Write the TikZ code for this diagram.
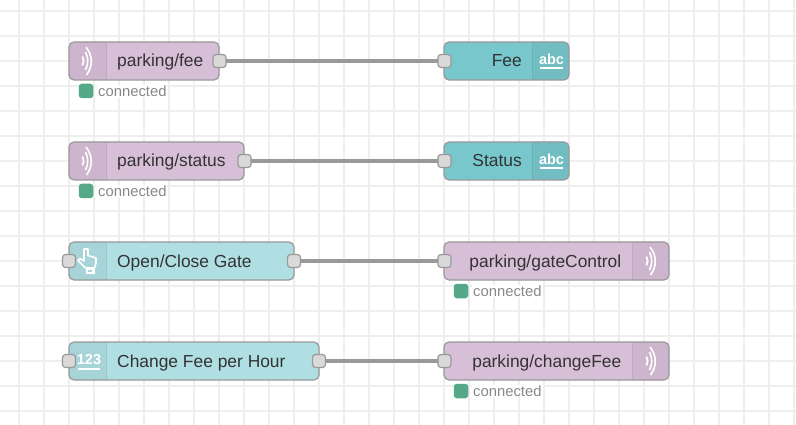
\documentclass[tikz,border=0pt]{standalone}
\usepackage{fontspec}
\setmainfont{Liberation Sans}
\definecolor{gridline}{HTML}{EEEEEE}
\definecolor{edge}{HTML}{999999}
\definecolor{mqttpink}{HTML}{D8BFD8}
\definecolor{mqttshade}{HTML}{CDB5CD}
\definecolor{textteal}{HTML}{77C7CC}
\definecolor{textshade}{HTML}{71BDC2}
\definecolor{uiblue}{HTML}{B0DFE3}
\definecolor{uishade}{HTML}{A7D4D8}
\definecolor{portgrey}{HTML}{D9D9D9}
\definecolor{statusgreen}{HTML}{55A888}
\definecolor{labelink}{HTML}{333333}
\definecolor{statusink}{HTML}{888888}
\tikzset{
    x=1pt, y=-1pt,
    body/.style={minimum height=38pt, inner sep=0pt, outer sep=0pt, rounded corners=5pt},
    mqtt/.style={body, fill=mqttpink},
    textout/.style={body, fill=textteal},
    uinode/.style={body, fill=uiblue},
    port/.style={draw=edge, line width=1.2pt, fill=portgrey, rounded corners=3pt, minimum size=13pt, inner sep=0pt, outer sep=0pt},
    wire/.style={draw=edge, line width=3.6pt},
    caption/.style={font=\fontsize{17.4}{20}\selectfont, text=labelink, inner sep=0pt},
    dot/.style={fill=statusgreen, rounded corners=3pt, minimum size=14.5pt, inner sep=0pt},
    statustext/.style={font=\fontsize{14.8}{18}\selectfont, text=statusink, fill=white, inner sep=1pt, anchor=west},
    glyph/.style={font=\fontsize{14.5}{15}\selectfont\bfseries, text=white, inner sep=0pt},
    waves/.pic={
        \draw[white, line width=1.8pt] (-4.5,-4.5) .. controls (-3,-1.5) and (-3,1.5) .. (-4.5,4.5);
        \draw[white, line width=1.6pt] (-1.5,-9) .. controls (1.5,-3) and (1.5,3) .. (-1.5,9);
        \draw[white, line width=1.6pt] (-1,-14) .. controls (6,-5) and (6,5) .. (-0.5,14);
    },
}
\newcommand{\iconleft}[2]{
    \fill[#2] ([xshift=37]#1.north west) [rounded corners=5pt] -- (#1.north west) -- (#1.south west) [sharp corners] -- ([xshift=37]#1.south west) -- cycle;
    \draw[#2!94!black, line width=1pt] ([xshift=37]#1.north west) -- ([xshift=37]#1.south west);
    \draw[edge, line width=1.2pt, rounded corners=5pt] (#1.north west) rectangle (#1.south east);
}
\newcommand{\iconright}[2]{
    \fill[#2] ([xshift=-37]#1.north east) [rounded corners=5pt] -- (#1.north east) -- (#1.south east) [sharp corners] -- ([xshift=-37]#1.south east) -- cycle;
    \draw[#2!94!black, line width=1pt] ([xshift=-37]#1.north east) -- ([xshift=-37]#1.south east);
    \draw[edge, line width=1.2pt, rounded corners=5pt] (#1.north west) rectangle (#1.south east);
}
\begin{document}
\begin{tikzpicture}
    \useasboundingbox (0,0) rectangle (796,425);
    \fill[white] (0,0) rectangle (796,425);
    \foreach \x in {19,44,...,794}
        \draw[gridline, line width=2pt] (\x,0) -- (\x,425);
    \foreach \y in {11,36,...,411}
        \draw[gridline, line width=2pt] (0,\y) -- (796,\y);

    \node[mqtt, minimum width=150pt] (fee) at (144,61) {};
    \node[mqtt, minimum width=175pt] (status) at (156.5,161) {};
    \node[uinode, minimum width=225pt] (gate) at (181.5,261) {};
    \node[uinode, minimum width=250pt] (change) at (194,361) {};
    \node[textout, minimum width=125pt] (fee_text) at (506.5,61) {};
    \node[textout, minimum width=125pt] (status_text) at (506.5,161) {};
    \node[mqtt, minimum width=225pt] (gate_mqtt) at (556.5,261) {};
    \node[mqtt, minimum width=225pt] (change_mqtt) at (556.5,361) {};

    \iconleft{fee}{mqttshade}
    \iconleft{status}{mqttshade}
    \iconleft{gate}{uishade}
    \iconleft{change}{uishade}
    \iconright{fee_text}{textshade}
    \iconright{status_text}{textshade}
    \iconright{gate_mqtt}{mqttshade}
    \iconright{change_mqtt}{mqttshade}

    \pic at (87,61) {waves};
    \pic at (87,161) {waves};
    \pic at (651,261) {waves};
    \pic at (651,361) {waves};
    \node[glyph] (fee_abc) at (551.5,59.5) {abc};
    \node[glyph] (status_abc) at (551.5,159.5) {abc};
    \node[glyph] (change_123) at (89,360) {123};
    \draw[white, line width=2pt] (540,68.5) -- (563,68.5);
    \draw[white, line width=2pt] (540,168.5) -- (563,168.5);
    \draw[white, line width=2pt] (78,368.5) -- (100,368.5);
    \draw[white, line width=1.6pt, line join=round] (84,249) -- (88,249) -- (88,255.5) -- (96,258) -- (96,263) -- (94.5,268) -- (85.5,268) -- (78,260.5) -- (80,258.5) -- (84,261) -- cycle;
    \fill[white] (85.5,268) rectangle (95,273.5);
    \fill[uishade] (88,269.5) rectangle (91.5,272);

    \node[caption, anchor=base west] (fee_label) at (117,67) {parking/fee};
    \node[caption, anchor=base west] (status_label) at (117,167) {parking/status};
    \node[caption, anchor=base west] (gate_label) at (117,267) {Open/Close Gate};
    \node[caption, anchor=base west] (change_label) at (117,367) {Change Fee per Hour};
    \node[caption, anchor=base east] (fee_text_label) at (522,67) {Fee};
    \node[caption, anchor=base east] (status_text_label) at (522,167) {Status};
    \node[caption, anchor=base east] (gate_mqtt_label) at (621.5,267) {parking/gateControl};
    \node[caption, anchor=base east] (change_mqtt_label) at (621.5,367) {parking/changeFee};

    \node[port] (fee_out) at (219.5,61) {};
    \node[port] (status_out) at (244.5,161) {};
    \node[port] (gate_in) at (69,261) {};
    \node[port] (gate_out) at (294,261) {};
    \node[port] (change_in) at (69,361) {};
    \node[port] (change_out) at (319,361) {};
    \node[port] (fee_in) at (444.5,61) {};
    \node[port] (status_in) at (444.5,161) {};
    \node[port] (gate_mqtt_in) at (444.5,261) {};
    \node[port] (change_mqtt_in) at (444.5,361) {};

    \draw[wire] (fee_out) -- (fee_in);
    \draw[wire] (status_out) -- (status_in);
    \draw[wire] (gate_out) -- (gate_mqtt_in);
    \draw[wire] (change_out) -- (change_mqtt_in);

    \node[dot] (fee_dot) at (86,91) {};
    \node[dot] (status_dot) at (86,191) {};
    \node[dot] (gate_dot) at (461,291) {};
    \node[dot] (change_dot) at (461,391) {};
    \node[statustext] (fee_state) at (97,91) {connected};
    \node[statustext] (status_state) at (97,191) {connected};
    \node[statustext] (gate_state) at (472,291) {connected};
    \node[statustext] (change_state) at (472,391) {connected};
\end{tikzpicture}
\end{document}
